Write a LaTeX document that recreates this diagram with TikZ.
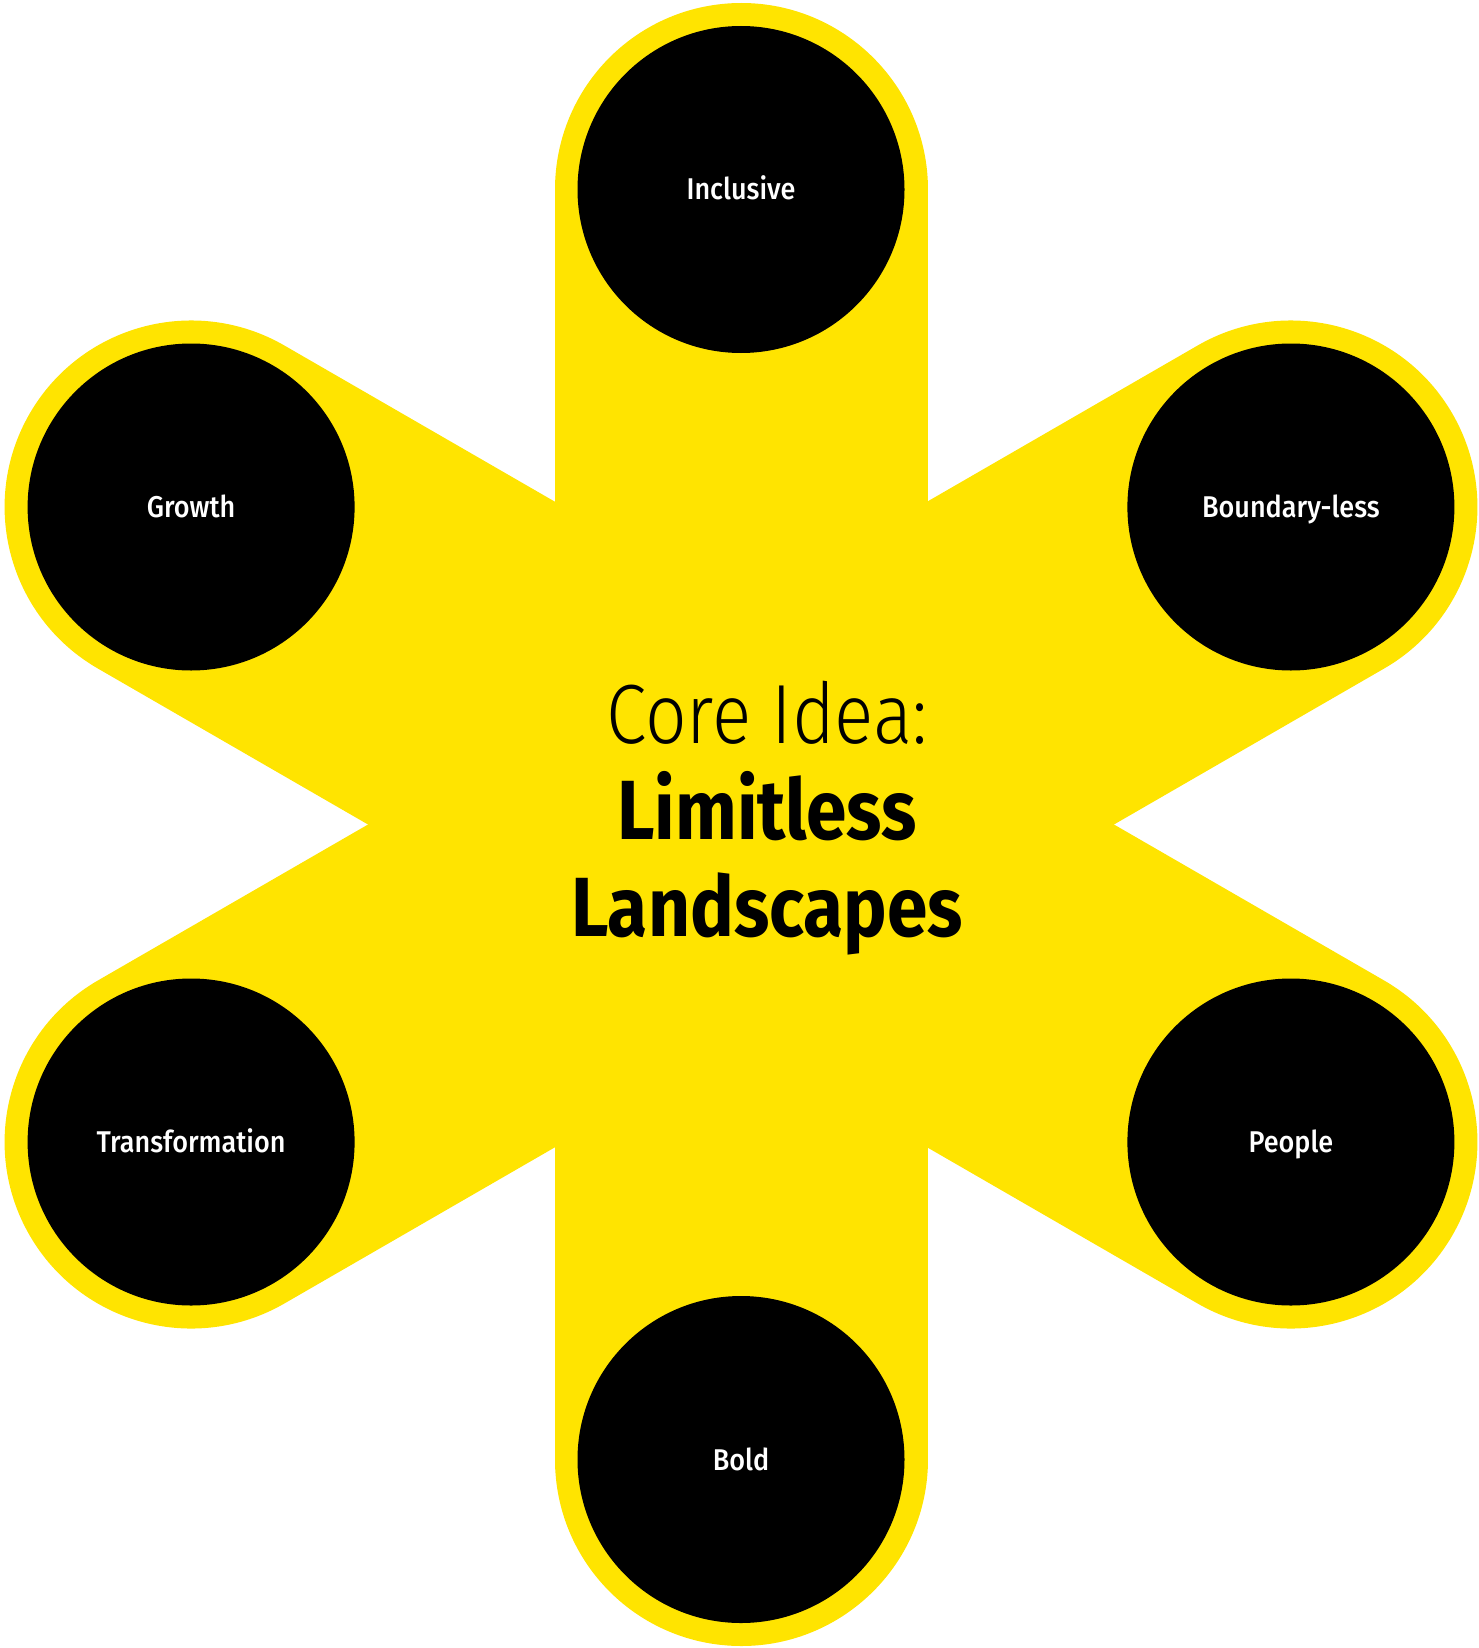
\documentclass[tikz,border=0pt]{standalone}
\usepackage{fontspec}
\usepackage{xcolor}
\usepackage{tikz}
\setmainfont{Fira Sans}
\newfontfamily\ideafont{Fira Sans Light}[FakeStretch=0.87]
\newfontfamily\headfont{Fira Sans}[FakeStretch=0.87]
\newfontfamily\petalfont{Fira Sans Medium}[FakeStretch=0.9]
\definecolor{starYellow}{RGB}{255,228,0}
\tikzset{every picture/.style={line width=0.75pt}}
\tikzset{
  spoke/.style={draw=starYellow, line width=373pt, line cap=round},
  petal/.style={circle, fill=black, minimum size=327pt, inner sep=0pt, text=white,
    font=\petalfont\fontsize{30}{34}\selectfont, text height=21pt, text depth=0pt},
  headline/.style={anchor=base, inner sep=0pt, text=black},
}

\begin{document}
\begin{tikzpicture}[x=1pt,y=1pt,yscale=-1,xscale=1]
    \useasboundingbox (0,0) rectangle (1479,1648);
    % centres of the six petals
    \coordinate (pInclusive) at (741,189.5);
    \coordinate (pBold) at (741,1459.5);
    \coordinate (pGrowth) at (191.1,507);
    \coordinate (pPeople) at (1290.9,1142);
    \coordinate (pBoundary) at (1290.9,507);
    \coordinate (pTransform) at (191.1,1142);
    % yellow star
    \draw [spoke] (pInclusive) -- (pBold);
    \draw [spoke] (pGrowth) -- (pPeople);
    \draw [spoke] (pBoundary) -- (pTransform);
    % petals
    \node [petal] (inclusive) at (pInclusive) {Inclusive};
    \node [petal] (bold) at (pBold) {Bold};
    \node [petal] (growth) at (pGrowth) {Growth};
    \node [petal] (people) at (pPeople) {People};
    \node [petal] (boundary) at (pBoundary) {Boundary-less};
    \node [petal] (transform) at (pTransform) {Transformation};
    % core idea
    \node [headline, font=\ideafont\fontsize{84}{90}\selectfont] (idea) at (767,743) {Core Idea:};
    \node [headline, font=\headfont\bfseries\fontsize{84}{90}\selectfont] (limitless) at (767,839) {Limitless};
    \node [headline, font=\headfont\bfseries\fontsize{84}{90}\selectfont] (landscapes) at (767,936) {Landscapes};
\end{tikzpicture}
\end{document}
